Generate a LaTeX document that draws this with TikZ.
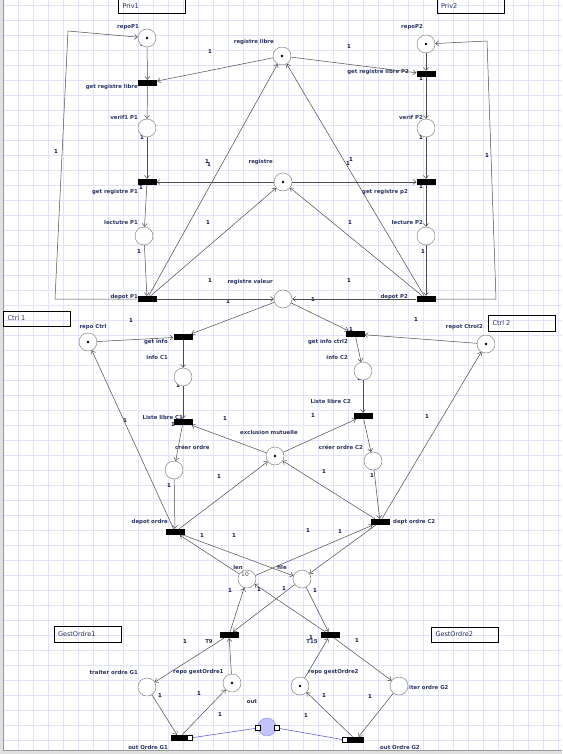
\documentclass[tikz,border=0pt]{standalone}
\usepackage{fontspec}
\setsansfont{DejaVu Sans}
\usetikzlibrary{arrows.meta, positioning}
\definecolor{gridcolor}{RGB}{226,226,248}
\definecolor{labelcolor}{RGB}{40,50,95}
\definecolor{weightcolor}{RGB}{15,15,70}
\definecolor{arccolor}{RGB}{75,75,75}
\definecolor{outcolor}{RGB}{195,195,248}
\definecolor{linkcolor}{RGB}{100,100,220}

\begin{document}
\begin{tikzpicture}[
    x=1pt, y=-1pt,
    place/.style={circle, draw=black!55, fill=white, minimum size=18pt, inner sep=0pt},
    trans/.style={rectangle, fill=black, minimum width=19pt, minimum height=6pt, inner sep=0pt},
    port/.style={rectangle, draw=black, fill=white, minimum size=5.5pt, inner sep=0pt, line width=0.6pt},
    lbl/.style={font=\sffamily\bfseries\fontsize{5.4}{6}\selectfont, text=labelcolor, inner sep=0pt},
    wt/.style={font=\sffamily\bfseries\fontsize{5.4}{6}\selectfont, text=weightcolor, inner sep=0pt},
    groupbox/.style={draw, line width=1pt, minimum width=67pt, minimum height=16pt, text width=59pt, inner xsep=4pt, align=left, font=\sffamily\fontsize{6.5}{8}\selectfont, text=labelcolor},
    arc/.style={draw=arccolor, line width=0.5pt, -{Straight Barb[length=3pt, width=5pt]}}
]
    \useasboundingbox (0,0) rectangle (562,754);

    % Grid
    \foreach \gx in {3,18,...,558} \draw[gridcolor, line width=0.7pt] (\gx,0) -- (\gx,750);
    \foreach \gy in {5,20,...,750} \draw[gridcolor, line width=0.7pt] (3,\gy) -- (562,\gy);
    \fill[black!12] (0,0) rectangle (3,754);
    \fill[black!12] (0,750) rectangle (562,754);
    \draw[black!40] (3,0) -- (3,750) -- (562,750);

    % Group boxes
    \node[groupbox] (priv1) at (152,6) {Priv1};
    \node[groupbox] (priv2) at (470.5,6) {Priv2};
    \node[groupbox, minimum height=15pt] (ctrl1) at (37,318.5) {Ctrl 1};
    \node[groupbox] (ctrl2) at (522,323) {Ctrl 2};
    \node[groupbox] (gest1) at (87.5,634) {GestOrdre1};
    \node[groupbox, minimum height=15pt] (gest2) at (465,634.5) {GestOrdre2};

    % Labels
    \node[lbl, anchor=east] (l-rP1) at (139,27) {repoP1};
    \node[lbl, anchor=east] (l-rlib) at (274,42) {registre libre};
    \node[lbl, anchor=east] (l-grl1) at (138,87) {get registre libre};
    \node[lbl, anchor=east] (l-v1) at (138,117) {verif1 P1};
    \node[lbl, anchor=east] (l-rP2) at (423,27) {repoP2};
    \node[lbl, anchor=east] (l-grl2) at (409,72) {get registre libre P2};
    \node[lbl, anchor=east] (l-v2) at (423,117) {verif P2};
    \node[lbl, anchor=east] (l-reg) at (273,162) {registre};
    \node[lbl, anchor=east] (l-gr1) at (138,192) {get registre P1};
    \node[lbl, anchor=east] (l-lec1) at (138,222) {lectutre P1};
    \node[lbl, anchor=east] (l-dp1) at (138,297) {depot P1};
    \node[lbl, anchor=east] (l-rval) at (273,282) {registre valeur};
    \node[lbl, anchor=east] (l-gr2) at (408,192) {get registre p2};
    \node[lbl, anchor=east] (l-lec2) at (423,222) {lecture P2};
    \node[lbl, anchor=east] (l-dp2) at (408,297) {depot P2};
    \node[lbl] (l-rc1) at (93,327) {repo Ctrl};
    \node[lbl, anchor=east] (l-gi1) at (168,342) {get info};
    \node[lbl, anchor=east] (l-ic1) at (168,357) {info C1};
    \node[lbl, anchor=east] (l-ll1) at (183,417) {Liste libre C1};
    \node[lbl, anchor=west] (l-excl) at (240,432) {exclusion mutuelle};
    \node[lbl, anchor=west] (l-co1) at (175,447) {créer ordre};
    \node[lbl, anchor=east] (l-gi2) at (348,342) {get info ctrl2};
    \node[lbl, anchor=east] (l-rc2) at (483,327) {repot Ctrol2};
    \node[lbl, anchor=east] (l-ic2) at (348,357) {info C2};
    \node[lbl, anchor=east] (l-ll2) at (351,401) {Liste libre C2};
    \node[lbl, anchor=east] (l-co2) at (363,447) {créer ordre C2};
    \node[lbl, anchor=east] (l-do1) at (168,522) {depot ordre};
    \node[lbl, anchor=west] (l-do2) at (393,522) {dept ordre C2};
    \node[lbl] (l-len) at (238,567) {len};
    \node[lbl] (l-file) at (282,567) {file};
    \node[lbl] (l-t9) at (209,642) {T9};
    \node[lbl] (l-t15) at (312,642) {T15};
    \node[lbl, anchor=east] (l-tg1) at (138,672) {traiter ordre G1};
    \node[lbl, anchor=west] (l-rg1) at (173,672) {repo gestOrdre1};
    \node[lbl] (l-out) at (252,702) {out};
    \node[lbl, anchor=east] (l-og1) at (168,747) {out Ordre G1};
    \node[lbl, anchor=west] (l-rg2) at (308,672) {repo gestOrdre2};
    \node[lbl, anchor=west] (l-tg2) at (409,687) {iter ordre G2};
    \node[lbl, anchor=west] (l-og2) at (380,747) {out Ordre G2};

    % Weights
    \foreach \wx/\wy [count=\i] in {142/45, 210/52, 56/152, 142/138, 349/47, 421/79, 421/138, 487/156,
        207/162, 209/165, 141/188, 208/223, 139/252, 210/281, 228/302, 351/160, 348/164, 421/187,
        350/223, 423/252, 349/281, 313/300, 131/321, 416/320, 351/330, 178/386, 359/379, 125/421,
        225/419, 173/425, 313/416, 427/417, 219/477, 169/486, 324/472, 372/476, 202/536, 234/536,
        308/531, 340/532, 230/591, 259/590, 284/589, 315/591, 185/642, 311/638, 357/641, 160/696,
        199/694, 220/715, 324/696, 370/697, 306/716}
        \node[wt] (w\i) at (\wx,\wy) {1};

    % Priv1 / Priv2
    \node[place] (rP1) at (147,38) {};
    \node[place] (rlib) at (282,56) {};
    \node[place] (rP2) at (426,44) {};
    \node[trans] (grl1) at (147.5,83) {};
    \node[trans] (grl2) at (426,74) {};
    \node[place] (v1) at (147,128) {};
    \node[place] (v2) at (426,128) {};
    \node[place] (reg) at (283,182) {};
    \node[trans] (gr1) at (147,182) {};
    \node[trans] (gr2) at (426,182) {};
    \node[place] (lec1) at (144,236) {};
    \node[place] (lec2) at (426,236) {};
    \node[trans] (dp1) at (147,299) {};
    \node[trans] (dp2) at (426,299) {};
    \node[place] (rval) at (283,299) {};
    \coordinate (k1a) at (55,299);
    \coordinate (k1b) at (68,31);
    \coordinate (k2a) at (496,299);
    \coordinate (k2b) at (487,41);

    % Ctrl 1 / Ctrl 2
    \node[place] (rc1) at (88,342) {};
    \node[place] (rc2) at (486,344) {};
    \node[trans] (gi1) at (183,337) {};
    \node[trans] (gi2) at (355,334) {};
    \node[place] (ic1) at (183,377) {};
    \node[place] (ic2) at (363,371) {};
    \node[trans] (ll1) at (183,422) {};
    \node[trans] (ll2) at (363,416) {};
    \node[place] (excl) at (275,456) {};
    \node[place] (co1) at (174,470) {};
    \node[place] (co2) at (373,461) {};
    \node[trans] (do1) at (175,532) {};
    \node[trans] (do2) at (380,522) {};
    \node[place] (len) at (247,579) {};
    \node[font=\sffamily\fontsize{6}{7}\selectfont, text=black!70, inner sep=0pt] (len-v) at (245,574) {10};
    \node[place] (file) at (302,579) {};

    % GestOrdre1 / GestOrdre2
    \node[trans] (t9) at (229,635) {};
    \node[trans] (t15) at (330,635) {};
    \node[place] (tg1) at (147,687) {};
    \node[place] (rg1) at (232,683) {};
    \node[place] (rg2) at (300,686) {};
    \node[place] (tg2) at (399,686) {};
    \node[trans, minimum width=17pt] (og1) at (179,738) {};
    \node[trans, minimum width=16pt] (og2) at (356,740) {};
    \node[place, fill=outcolor, draw=outcolor!70!blue] (out) at (267,727) {};
    \node[port] (og1p) at (190,738) {};
    \node[port] (og2p) at (345,740) {};
    \node[port] (outL) at (258,728) {};
    \node[port] (outR) at (277,728) {};

    % Tokens
    \foreach \tk in {rP1, rlib, rP2, reg, rc1, rc2, excl, rg1, rg2}
        \fill (\tk.center) circle (1.4);

    % Arcs Priv1
    \draw[arc] (rP1) -- (grl1);
    \draw[arc] (rlib) -- (grl1);
    \draw[arc] (grl1) -- (v1);
    \draw[arc] (v1) -- (gr1);
    \draw[arc] (reg) -- (gr1);
    \draw[arc] (gr1) -- (lec1);
    \draw[arc] (lec1) -- (dp1);
    \draw[arc] (dp1) -- (rlib);
    \draw[arc] (dp1) -- (reg);
    \draw[arc] (dp1) -- (rval);
    \draw[arc] (dp1.west) -- (k1a) -- (k1b) -- (rP1);

    % Arcs Priv2
    \draw[arc] (rP2) -- (grl2);
    \draw[arc] (rlib) -- (grl2);
    \draw[arc] (grl2) -- (v2);
    \draw[arc] (v2) -- (gr2);
    \draw[arc] (reg) -- (gr2);
    \draw[arc] (gr2) -- (lec2);
    \draw[arc] (lec2) -- (dp2);
    \draw[arc] (dp2) -- (rlib);
    \draw[arc] (dp2) -- (reg);
    \draw[arc] (dp2) -- (rval);
    \draw[arc] (dp2.east) -- (k2a) -- (k2b) -- (rP2);

    % Arcs Ctrl
    \draw[arc] (rval) -- (gi1);
    \draw[arc] (rval) -- (gi2);
    \draw[arc] (rc1) -- (gi1);
    \draw[arc] (gi1) -- (ic1);
    \draw[arc] (ic1) -- (ll1);
    \draw[arc] (excl) -- (ll1);
    \draw[arc] (ll1) -- (co1);
    \draw[arc] (co1) -- (do1);
    \draw[arc] (do1) -- (rc1);
    \draw[arc] (do1) -- (excl);
    \draw[arc] (len) -- (do1);
    \draw[arc] (do1) -- (file);
    \draw[arc] (rc2) -- (gi2);
    \draw[arc] (gi2) -- (ic2);
    \draw[arc] (ic2) -- (ll2);
    \draw[arc] (excl) -- (ll2);
    \draw[arc] (ll2) -- (co2);
    \draw[arc] (co2) -- (do2);
    \draw[arc] (do2) -- (excl);
    \draw[arc] (do2) -- (rc2);
    \draw[arc] (len) -- (do2);
    \draw[arc] (do2) -- (file);

    % Arcs GestOrdre
    \draw[arc] (file) -- (t9);
    \draw[arc] (t9) -- (len);
    \draw[arc] (file) -- (t15);
    \draw[arc] (t15) -- (len);
    \draw[arc] (t9) -- (tg1);
    \draw[arc] (rg1) -- (t9);
    \draw[arc] (tg1) -- (og1);
    \draw[arc] (og1) -- (rg1);
    \draw[arc] (t15) -- (tg2);
    \draw[arc] (rg2) -- (t15);
    \draw[arc] (tg2) -- (og2);
    \draw[arc] (og2) -- (rg2);

    % out links
    \draw[linkcolor, line width=0.6pt] (og1p) -- (outL);
    \draw[linkcolor, line width=0.6pt] (outR) -- (og2p);
\end{tikzpicture}
\end{document}
